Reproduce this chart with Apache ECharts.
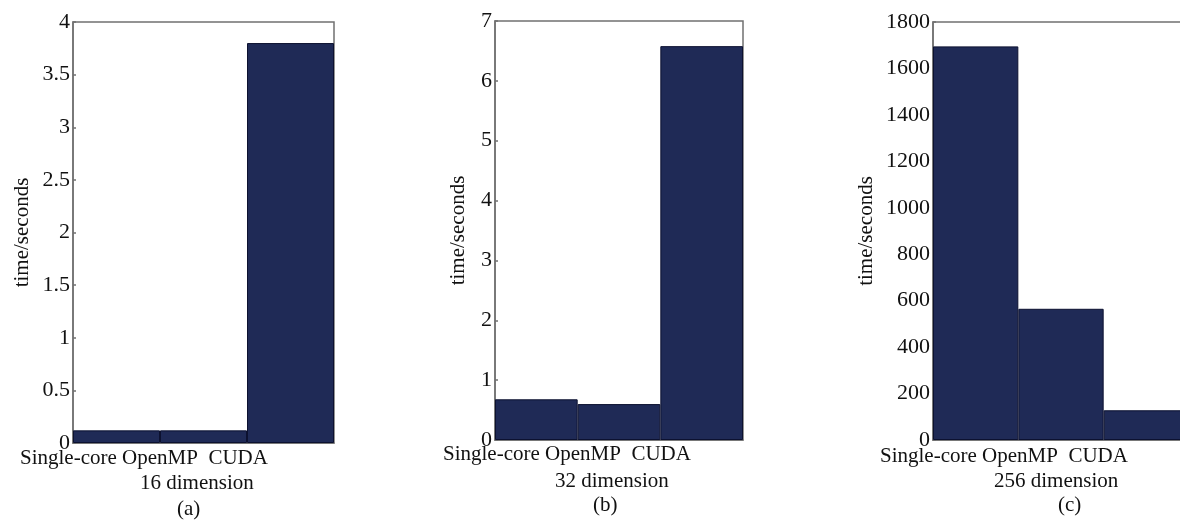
<!DOCTYPE html>
<html>
<head>
<meta charset="utf-8">
<script src="https://cdn.jsdelivr.net/npm/echarts@6/dist/echarts.min.js"></script>
<style>
    html, body {margin: 0; padding: 0; background: #fff; overflow: hidden;}
    #main {width: 1200px; height: 521px;}
</style>
</head>
<body>
<div id="main"></div>
<script>
var categories = ['Single-core', 'OpenMP', 'CUDA'];
var time16 = [0.12, 0.12, 3.8];
var time32 = [0.68, 0.6, 6.58];
var time256 = [1695, 565, 128];
var panelNames = ['16 dimension', '32 dimension', '256 dimension'];
var panelTags = ['(a)', '(b)', '(c)'];

~function () {
    var myChart = echarts.init(document.getElementById('main'));
    var font = 'Liberation Serif, Times New Roman, serif';
    var barColor = '#1f2a56';
    var frame = '#707070';

    // panel (c) runs past the right edge of the picture, as in the original figure
    var grids = [
        {left: 73, top: 22, width: 261, height: 421},
        {left: 495, top: 21, width: 248, height: 419},
        {left: 933, top: 22, width: 256, height: 418}
    ];
    var ranges = [
        {max: 4, interval: 0.5, nameGap: 40},
        {max: 7, interval: 1, nameGap: 26},
        {max: 1800, interval: 200, nameGap: 56}
    ];
    var values = [time16, time32, time256];

    // text placement under each panel
    var labelPos = [
        {labels: [20, 448], dim: [140, 473], tag: [177, 499]},
        {labels: [443, 444], dim: [555, 471], tag: [593, 495]},
        {labels: [880, 446], dim: [994, 471], tag: [1058, 495]}
    ];

    var option = {
        backgroundColor: '#fff',
        title: [],
        grid: [],
        xAxis: [],
        yAxis: [],
        series: []
    };

    var textStyle = {fontFamily: font, fontSize: 21, fontWeight: 'normal', color: '#111'};

    for (var i = 0; i < 3; i++) {
        var g = grids[i];
        option.grid.push({
            left: g.left, top: g.top, width: g.width, height: g.height,
            show: true, borderColor: frame, borderWidth: 1.5, backgroundColor: '#fff'
        });
        option.xAxis.push({
            type: 'category',
            gridIndex: i,
            data: categories,
            axisLine: {lineStyle: {color: frame, width: 1.5}},
            axisTick: {show: false},
            axisLabel: {show: false}
        });
        option.xAxis.push({
            type: 'category',
            gridIndex: i,
            position: 'top',
            data: categories,
            axisLine: {show: false},
            axisTick: {inside: true, length: 3, lineStyle: {color: frame, width: 1.5}},
            axisLabel: {show: false}
        });
        option.yAxis.push({
            type: 'value',
            gridIndex: i,
            min: 0,
            max: ranges[i].max,
            interval: ranges[i].interval,
            name: 'time/seconds',
            nameLocation: 'middle',
            nameGap: ranges[i].nameGap,
            nameTextStyle: {fontFamily: font, fontSize: 21, color: '#111'},
            axisLine: {show: true, lineStyle: {color: frame, width: 1.5}},
            axisTick: {show: true, inside: true, length: 3, lineStyle: {color: frame, width: 1.5}},
            axisLabel: {
                margin: 3, fontFamily: font, fontSize: 22, color: '#111',
                formatter: function (v) { return String(v); }
            },
            splitLine: {show: false}
        });
        option.series.push({
            type: 'bar',
            xAxisIndex: i * 2,
            yAxisIndex: i,
            data: values[i],
            barCategoryGap: '0%',
            itemStyle: {color: barColor, borderColor: '#0c1130', borderWidth: 1}
        });

        var p = labelPos[i];
        option.title.push({
            text: categories.join(' ').replace('MP ', 'MP  '),
            left: p.labels[0], top: p.labels[1], padding: 0, textStyle: textStyle
        });
        option.title.push({
            text: panelNames[i],
            left: p.dim[0], top: p.dim[1], padding: 0, textStyle: textStyle
        });
        option.title.push({
            text: panelTags[i],
            left: p.tag[0], top: p.tag[1], padding: 0, textStyle: textStyle
        });
    }

    myChart.setOption(option);
}();
</script>
</body>
</html>
